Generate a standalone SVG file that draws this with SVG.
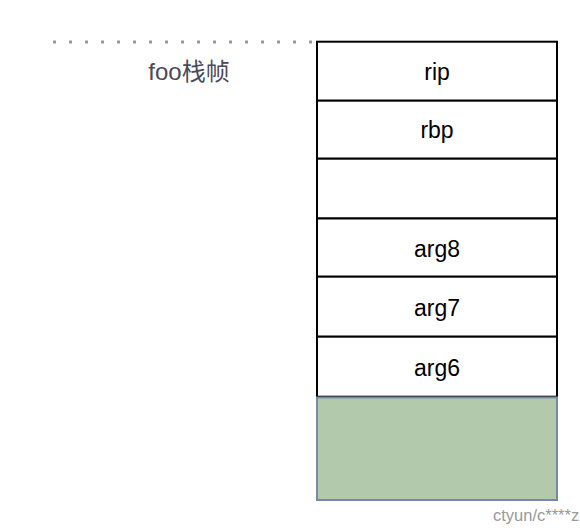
<svg xmlns="http://www.w3.org/2000/svg" width="580" height="528" viewBox="0 0 580 528">
<style>
.cell{fill:#ffffff;stroke:#000000;stroke-width:2}
.lbl{font-family:"Liberation Sans","Noto Sans CJK SC",sans-serif;font-size:23px;fill:#000000;text-anchor:middle}
</style>
<rect width="580" height="528" fill="#ffffff"/>
<g id="connectors">
<line x1="53" y1="42" x2="316" y2="42" stroke="#999999" stroke-width="3" stroke-dasharray="3 13"/>
</g>
<g id="frame-label">
<text x="189" y="80" font-family="Liberation Sans,'Noto Sans CJK SC',sans-serif" font-size="24" fill="#4a4a58" text-anchor="middle">foo栈帧</text>
</g>
<g id="rip"><rect class="cell" x="317" y="41.7" width="240" height="59"/><text class="lbl" x="437" y="79.5">rip</text></g>
<g id="rbp"><rect class="cell" x="317" y="100.7" width="240" height="58"/><text class="lbl" x="437" y="138">rbp</text></g>
<g id="empty"><rect class="cell" x="317" y="158.7" width="240" height="59.8"/></g>
<g id="arg8"><rect class="cell" x="317" y="218.5" width="240" height="58.2"/><text class="lbl" x="437" y="256.5">arg8</text></g>
<g id="arg7"><rect class="cell" x="317" y="276.7" width="240" height="60"/><text class="lbl" x="437" y="315.5">arg7</text></g>
<g id="arg6"><rect class="cell" x="317" y="336.7" width="240" height="60"/><text class="lbl" x="437" y="375.5">arg6</text></g>
<g id="green"><rect x="317" y="397.5" width="240" height="102.5" fill="#B2C9AB" stroke="#788AA3" stroke-width="2"/></g>
<text x="493" y="521" font-family="Liberation Sans,sans-serif" font-size="16.5" fill="#999999">ctyun/c****z</text>
</svg>
